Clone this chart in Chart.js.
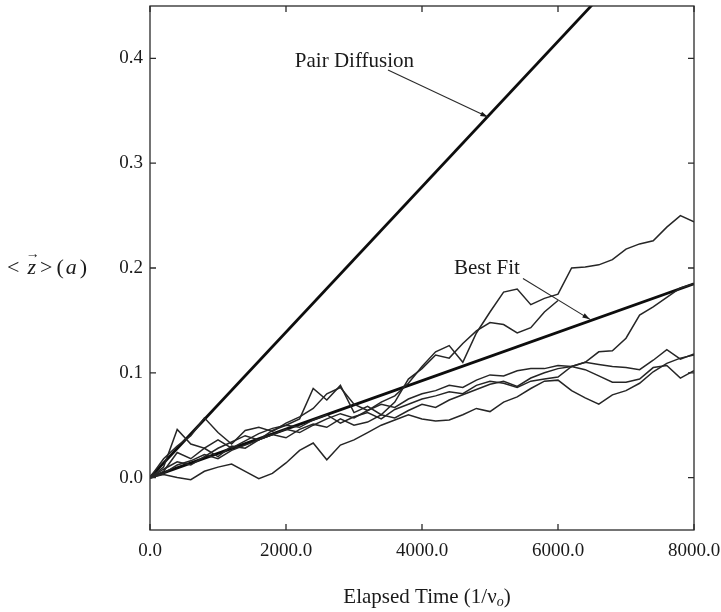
<!DOCTYPE html>
<html>
<head>
<meta charset="utf-8">
<script src="https://cdn.jsdelivr.net/npm/chart.js@4.4.1/dist/chart.umd.min.js"></script>
<style>
  html, body { margin: 0; padding: 0; background: #fff; }
  #wrap { width: 721px; height: 612px; }
</style>
</head>
<body>
<div id="wrap"><canvas id="chart"></canvas></div>
<script>
// elapsed time samples (1/nu_o)
const times = [0, 200, 400, 600, 800, 1000, 1200, 1400, 1600, 1800, 2000, 2200, 2400, 2600, 2800,
  3000, 3200, 3400, 3600, 3800, 4000, 4200, 4400, 4600, 4800, 5000, 5200, 5400, 5600, 5800,
  6000, 6200, 6400, 6600, 6800, 7000, 7200, 7400, 7600, 7800, 8000];

// individual runs, <z> in units of a (null = run stopped)
const run1 = [0, .018, .03, .04, .057, .043, .032, .045, .048, .044, .052, .058, .066, .08, .086,
  .07, .064, .072, .078, .09, .106, .12, .126, .11, .138, .158, .177, .18, .165, .171,
  .175, .2, .201, .203, .208, .218, .223, .226, .239, .25, .244];
const run2 = [0, .01, .046, .032, .028, .036, .028, .035, .042, .047, .05, .056, .085, .074, .088,
  .062, .068, .06, .072, .094, .104, .117, .114, .128, .14, .148, .146, .138, .143, .158,
  .169, null, null, null, null, null, null, null, null, null, null];
const run3 = [0, .004, .012, .016, .022, .018, .026, .031, .036, .041, .046, .043, .05, .056, .061,
  .057, .064, .07, .067, .075, .08, .083, .088, .086, .093, .098, .097, .102, .104, .104,
  .107, .106, .11, .12, .121, .133, .155, .163, .172, .181, .185];
const run4 = [0, .003, 0, -.002, .006, .01, .013, .006, -.001, .004, .014, .026, .033, .017, .031,
  .036, .043, .05, .055, .06, .056, .054, .055, .06, .066, .063, .072, .077, .085, .092,
  .093, .083, .076, .07, .079, .083, .09, .101, .109, .114, .117];
const run5 = [0, .006, .024, .018, .028, .02, .03, .028, .036, .041, .038, .046, .051, .048, .056,
  .05, .053, .06, .057, .064, .07, .067, .074, .079, .084, .089, .092, .087, .095, .1,
  .104, .106, .103, .097, .091, .091, .094, .105, .107, .095, .102];
const run6 = [0, .008, .015, .012, .02, .028, .034, .04, .036, .045, .05, .048, .055, .06, .052,
  .058, .062, .056, .065, .07, .075, .078, .082, .08, .088, .092, .09, .086, .092, .094,
  .096, .106, .11, .108, .106, .105, .103, .112, .122, .113, .118];
const runs = [run1, run2, run3, run4, run5, run6];

// straight reference lines
const pairT = [0, 8000];
const pairZ = [0, 0.555];
const fitT = [0, 8000];
const fitZ = [0, 0.185];

const xTicks = [0, 2000, 4000, 6000, 8000];
const yTicks = [0, 0.1, 0.2, 0.3, 0.4];

const notes = [
  { text: 'Pair Diffusion', tx: 2130, ty: 0.397, from: [3500, 0.389], to: [4970, 0.344] },
  { text: 'Best Fit', tx: 4470, ty: 0.2, from: [5485, 0.190], to: [6470, 0.151] }
];

const serif = '"Liberation Serif", "DejaVu Serif", serif';

const datasets = runs.map(r => ({
  data: times.map((t, i) => ({ x: t, y: r[i] })).filter(p => p.y !== null),
  borderColor: '#262626',
  borderWidth: 1.5,
  pointRadius: 0,
  tension: 0
}));
datasets.push({
  data: pairT.map((t, i) => ({ x: t, y: pairZ[i] })),
  borderColor: '#0d0d0d', borderWidth: 2.8, pointRadius: 0
});
datasets.push({
  data: fitT.map((t, i) => ({ x: t, y: fitZ[i] })),
  borderColor: '#0d0d0d', borderWidth: 2.8, pointRadius: 0
});

function arrow(ctx, x0, y0, x1, y1) {
  ctx.beginPath();
  ctx.moveTo(x0, y0);
  ctx.lineTo(x1, y1);
  ctx.stroke();
  const ang = Math.atan2(y1 - y0, x1 - x0);
  ctx.beginPath();
  ctx.moveTo(x1, y1);
  ctx.lineTo(x1 - 8 * Math.cos(ang - 0.3), y1 - 8 * Math.sin(ang - 0.3));
  ctx.lineTo(x1 - 8 * Math.cos(ang + 0.3), y1 - 8 * Math.sin(ang + 0.3));
  ctx.closePath();
  ctx.fill();
}

const frame = {
  id: 'frame',
  afterDatasetsDraw(chart) {
    const { ctx, chartArea: a, scales: { x, y } } = chart;
    ctx.save();
    ctx.strokeStyle = '#2a2a2a';
    ctx.fillStyle = '#1a1a1a';
    ctx.lineWidth = 1.3;
    ctx.strokeRect(a.left, a.top, a.right - a.left, a.bottom - a.top);
    ctx.beginPath();
    xTicks.forEach(v => {
      const px = x.getPixelForValue(v);
      ctx.moveTo(px, a.bottom); ctx.lineTo(px, a.bottom - 6);
      ctx.moveTo(px, a.top); ctx.lineTo(px, a.top + 6);
    });
    yTicks.forEach(v => {
      const py = y.getPixelForValue(v);
      ctx.moveTo(a.left, py); ctx.lineTo(a.left + 6, py);
      ctx.moveTo(a.right, py); ctx.lineTo(a.right - 6, py);
    });
    ctx.stroke();

    // annotations
    ctx.font = '21px ' + serif;
    ctx.textBaseline = 'middle';
    ctx.textAlign = 'left';
    ctx.lineWidth = 1.1;
    notes.forEach(n => {
      ctx.fillText(n.text, x.getPixelForValue(n.tx), y.getPixelForValue(n.ty));
      arrow(ctx, x.getPixelForValue(n.from[0]), y.getPixelForValue(n.from[1]),
        x.getPixelForValue(n.to[0]), y.getPixelForValue(n.to[1]));
    });

    // y axis title: < z > (a), horizontal
    const cy = (a.top + a.bottom) / 2;
    let cx = 7;
    const part = (s, italic) => {
      ctx.font = (italic ? 'italic ' : '') + '22px ' + serif;
      ctx.fillText(s, cx, cy);
      const w = ctx.measureText(s).width;
      cx += w;
      return w;
    };
    part('<', false);
    cx += 8;
    const zx = cx;
    const zw = part('z', true);
    ctx.font = '14px ' + serif;
    ctx.textAlign = 'center';
    ctx.fillText('\u2192', zx + zw / 2 + 1, cy - 14);
    ctx.textAlign = 'left';
    cx += 4;
    part('>', false);
    cx += 4;
    part('(', false);
    cx += 2;
    part('a', true);
    cx += 3;
    part(')', false);

    // x axis title
    const main = 'Elapsed Time (1/\u03bd';
    ctx.font = '21px ' + serif;
    const w1 = ctx.measureText(main).width;
    ctx.font = 'italic 14px ' + serif;
    const w2 = ctx.measureText('o').width;
    ctx.font = '21px ' + serif;
    const w3 = ctx.measureText(')').width;
    let sx = (a.left + a.right) / 2 + 5 - (w1 + w2 + w3) / 2;
    const sy = 597;
    ctx.fillText(main, sx, sy);
    sx += w1;
    ctx.font = 'italic 14px ' + serif;
    ctx.fillText('o', sx, sy + 5);
    sx += w2;
    ctx.font = '21px ' + serif;
    ctx.fillText(')', sx, sy);
    ctx.restore();
  }
};

new Chart(document.getElementById('chart'), {
  type: 'line',
  data: { datasets },
  options: {
    responsive: true,
    maintainAspectRatio: false,
    animation: false,
    events: [],
    layout: { padding: { left: 0, top: 6, right: 27, bottom: 0 } },
    plugins: { legend: { display: false }, tooltip: { enabled: false } },
    scales: {
      x: {
        type: 'linear',
        min: 0,
        max: 8000,
        grid: { display: false, drawTicks: false },
        border: { display: false },
        afterBuildTicks: s => { s.ticks = xTicks.map(v => ({ value: v })); },
        afterFit: s => { s.height = 82; s.paddingLeft = 0; s.paddingRight = 0; },
        ticks: {
          padding: 10,
          maxRotation: 0,
          color: '#1a1a1a',
          font: { family: serif, size: 19 },
          callback: v => v.toFixed(1)
        }
      },
      y: {
        type: 'linear',
        min: -0.05,
        max: 0.45,
        grid: { display: false, drawTicks: false },
        border: { display: false },
        afterBuildTicks: s => { s.ticks = yTicks.map(v => ({ value: v })); },
        afterFit: s => { s.width = 150; s.paddingTop = 0; s.paddingBottom = 0; },
        ticks: {
          padding: 7,
          color: '#1a1a1a',
          font: { family: serif, size: 19 },
          callback: v => v.toFixed(1)
        }
      }
    }
  },
  plugins: [frame]
});
</script>
</body>
</html>
